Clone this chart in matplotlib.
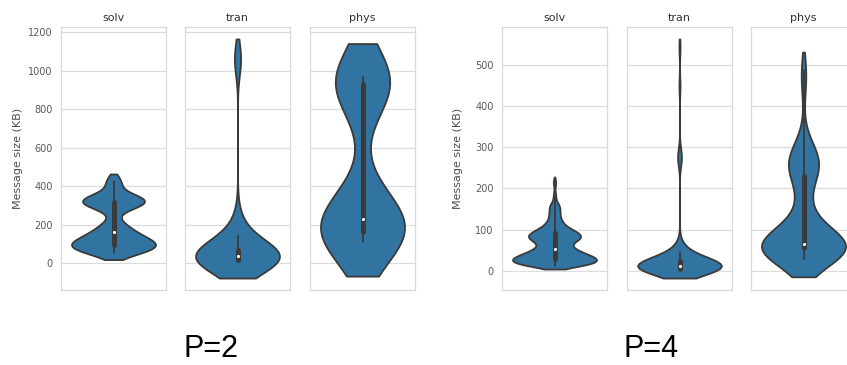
import numpy as np
import matplotlib
matplotlib.use("Agg")
import matplotlib.pyplot as plt
import seaborn as sns

panels = ["solv", "tran", "phys"]
group_labels = ["P=2", "P=4"]

# ---- P=2 samples: message sizes (KB) and how often they occur ----
solv_p2_vals = [52, 62, 72, 82, 92, 105, 117, 130, 145, 160, 175, 190, 205, 225,
                290, 305, 318, 330, 342, 355, 415, 429]
solv_p2_cnts = [4, 5, 6, 6, 6, 6, 6, 5, 4, 3, 3, 3, 2, 1,
                4, 6, 7, 7, 5, 2, 3, 3]
tran_p2_vals = [5, 15, 25, 35, 50, 70, 100, 140, 190, 240, 1040, 1060, 1082]
tran_p2_cnts = [14, 22, 26, 20, 13, 6, 6, 6, 5, 2, 2, 4, 2]
phys_p2_vals = [107, 130, 160, 185, 213, 245, 290, 350, 420, 900, 930, 950, 966]
phys_p2_cnts = [6, 8, 10, 12, 10, 5, 3, 2, 1, 5, 10, 12, 8]

# ---- P=4 samples ----
solv_p4_vals = [12, 20, 28, 36, 44, 52, 60, 68, 76, 84, 92, 100, 108, 116, 124,
                132, 140, 148, 156, 164, 180, 190, 212, 220]
solv_p4_cnts = [30, 40, 42, 34, 26, 19, 14, 16, 23, 27, 22, 17, 10, 8, 6,
                5, 5, 5, 5, 4, 2, 1, 2, 1]
tran_p4_vals = [2, 5, 8, 11, 14, 18, 24, 30, 38, 46, 55, 65, 265, 275, 290, 450, 544]
tran_p4_cnts = [14, 14, 14, 12, 10, 8, 6, 5, 4, 3, 2, 1, 1, 2, 1, 1, 1]
phys_p4_vals = [28, 40, 51, 58, 65, 80, 100, 130, 160, 200, 230, 250, 265, 280,
                300, 330, 440, 470, 489]
phys_p4_cnts = [6, 10, 12, 18, 12, 8, 5, 4, 3, 3, 4, 6, 7, 5, 3, 1, 1, 1, 2]

# kernel bandwidths (KB) used for each violin
bw_p2 = [34, 83, 175]
bw_p4 = [8, 20, 43]

yticks_p2 = [0, 200, 400, 600, 800, 1000, 1200]
yticks_p4 = [0, 100, 200, 300, 400, 500]

groups = [
    ([(solv_p2_vals, solv_p2_cnts), (tran_p2_vals, tran_p2_cnts), (phys_p2_vals, phys_p2_cnts)], bw_p2, yticks_p2),
    ([(solv_p4_vals, solv_p4_cnts), (tran_p4_vals, tran_p4_cnts), (phys_p4_vals, phys_p4_cnts)], bw_p4, yticks_p4),
]

sns.set_style("whitegrid")
plt.rcParams["font.family"] = ["DejaVu Sans"]

W, H = 847, 365
fig = plt.figure(figsize=(W / 100, H / 100), dpi=100)

lefts = [[61, 185, 310], [502, 627, 751]]
ax_w, ax_bottom, ax_top = 105, 290, 27
label_centers = [211, 651]

for gi, (samples, bws, yt) in enumerate(groups):
    first = None
    for pi, ((vals, cnts), bw) in enumerate(zip(samples, bws)):
        rect = [lefts[gi][pi] / W, (H - ax_bottom) / H, ax_w / W, (ax_bottom - ax_top) / H]
        ax = fig.add_axes(rect, sharey=first) if first is not None else fig.add_axes(rect)
        data = np.repeat(np.asarray(vals, float), cnts)
        factor = bw / np.std(data, ddof=1)
        sns.violinplot(y=data, ax=ax, cut=1, bw_method=factor, inner="box",
                       linewidth=1.3, linecolor="#3a3a3a",
                       inner_kws={"box_width": 3.6, "whis_width": 1.3, "marker": "."})
        ax.set_xticks([])
        ax.set_xlabel("")
        ax.set_title(panels[pi], fontsize=8, pad=4, color=".2")
        ax.grid(axis="y", color="#dcdcdc", linewidth=0.9)
        ax.grid(axis="x", visible=False)
        for s in ax.spines.values():
            s.set_color("#d9d9d9")
            s.set_linewidth(0.9)
        if first is None:
            first = ax
            ax.set_yticks(yt)
            ax.tick_params(axis="y", labelsize=7, pad=6, colors=".35", length=0)
            ax.set_ylabel("Message size (KB)", fontsize=8, color=".3")
            ax.yaxis.set_label_coords(-38.5 / ax_w, 0.5)
        else:
            ax.tick_params(axis="y", labelleft=False, length=0)
            ax.set_ylabel("")
    fig.text(label_centers[gi] / W, 1 / H, group_labels[gi], fontsize=22,
             family="Liberation Sans", ha="center", va="bottom", color="black")

fig.savefig("out.png", dpi=100)
